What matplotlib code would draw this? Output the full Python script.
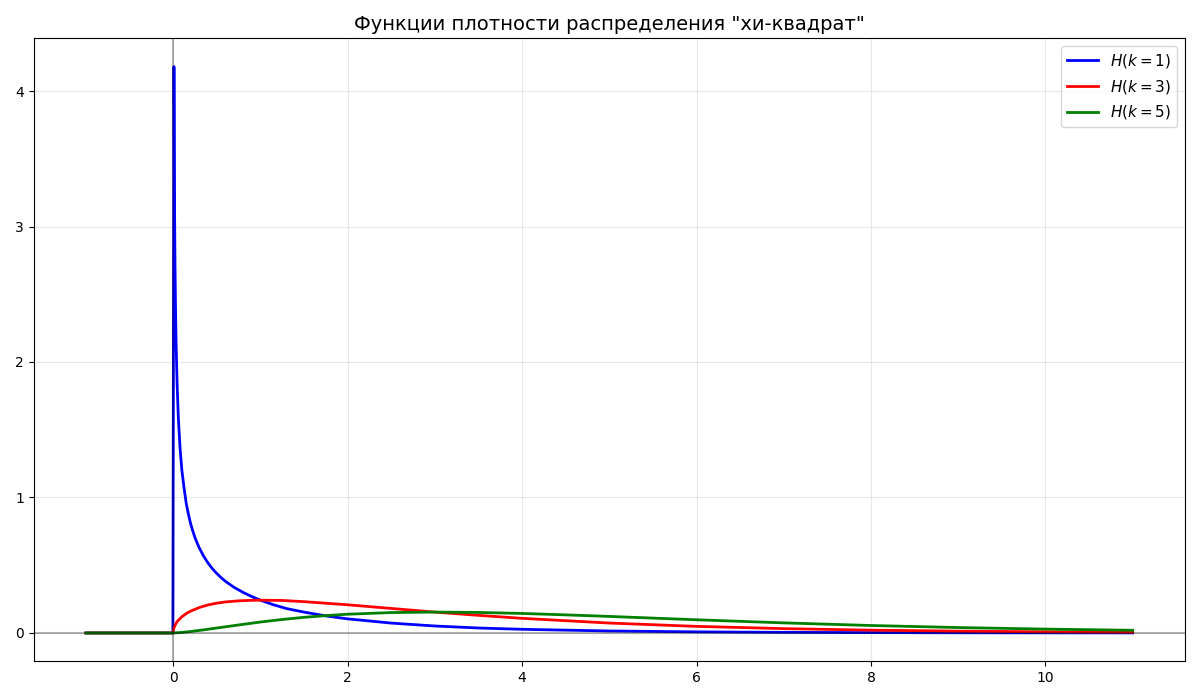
import matplotlib
matplotlib.use('Agg')
import matplotlib.pyplot as plt

# значения (x, плотность)
x_k1 = [-1.0, -0.003, 0.009, 0.015, 0.021, 0.027, 0.033, 0.045, 0.06, 0.08, 0.1, 0.125,
        0.15, 0.175, 0.2, 0.225, 0.25, 0.275, 0.3, 0.35, 0.4, 0.45, 0.5, 0.55, 0.6, 0.7, 0.8,
        0.9, 1.0, 1.15, 1.3, 1.5, 1.75, 2.0, 2.5,
        3.0, 3.5, 4.0, 5.0, 6.0, 7.0, 8.0, 9.5, 11.0]
y_k1 = [0.0, 0.0, 4.18, 3.23, 2.72, 2.40, 2.16, 1.84, 1.58, 1.355, 1.20, 1.07,
        0.956, 0.876, 0.807, 0.753, 0.704, 0.664, 0.627, 0.566, 0.516, 0.474, 0.439, 0.408, 0.381, 0.336, 0.300,
        0.269, 0.242, 0.208, 0.180, 0.154, 0.126, 0.104, 0.0729,
        0.0514, 0.0366, 0.027, 0.0146, 0.0081, 0.0045, 0.0026, 0.0011, 0.0005]

x_k3 = [-1.0, -0.003, 0.009, 0.03, 0.05, 0.1, 0.15, 0.2, 0.3, 0.4, 0.5, 0.6, 0.75, 0.9,
        1.0, 1.25, 1.5, 2.0, 2.5, 3.0, 3.5, 4.0, 5.0, 6.0, 7.0, 8.0, 9.0, 10.0, 11.0]
y_k3 = [0.0, 0.0, 0.0377, 0.068, 0.087, 0.120, 0.143, 0.161, 0.188, 0.207, 0.220, 0.229, 0.237, 0.241,
        0.242, 0.240, 0.231, 0.208, 0.181, 0.154, 0.130, 0.108, 0.0732, 0.0487, 0.0319, 0.0207, 0.0133, 0.0085, 0.0054]

x_k5 = [-1.0, -0.003, 0.009, 0.1, 0.2, 0.35, 0.5, 0.75, 1.0, 1.25, 1.5, 1.75, 2.0, 2.5,
        3.0, 3.5, 4.0, 4.5, 5.0, 6.0, 7.0, 8.0, 9.0, 10.0, 11.0]
y_k5 = [0.0, 0.0, 0.0001, 0.004, 0.0108, 0.023, 0.0366, 0.059, 0.0807, 0.0995, 0.1154, 0.128, 0.1384, 0.1506,
        0.1542, 0.1514, 0.1440, 0.1336, 0.1221, 0.0973, 0.0744, 0.0551, 0.0399, 0.0284, 0.0198]

curves = [(x_k1, y_k1, 'blue', r'$H(k=1)$'),
          (x_k3, y_k3, 'red', r'$H(k=3)$'),
          (x_k5, y_k5, 'green', r'$H(k=5)$')]

fig, ax = plt.subplots(figsize=(12, 7), dpi=100)
for xs, ys, c, lab in curves:
    ax.plot(xs, ys, color=c, linewidth=2, label=lab)

ax.axhline(0, color='k', alpha=0.3, linewidth=1.5)
ax.axvline(0, color='k', alpha=0.3, linewidth=1.5)
ax.grid(True, alpha=0.3)
ax.set_title('Функции плотности распределения "хи-квадрат"', fontsize=14)
ax.legend(fontsize=11)

plt.tight_layout()
plt.savefig('out.png')
